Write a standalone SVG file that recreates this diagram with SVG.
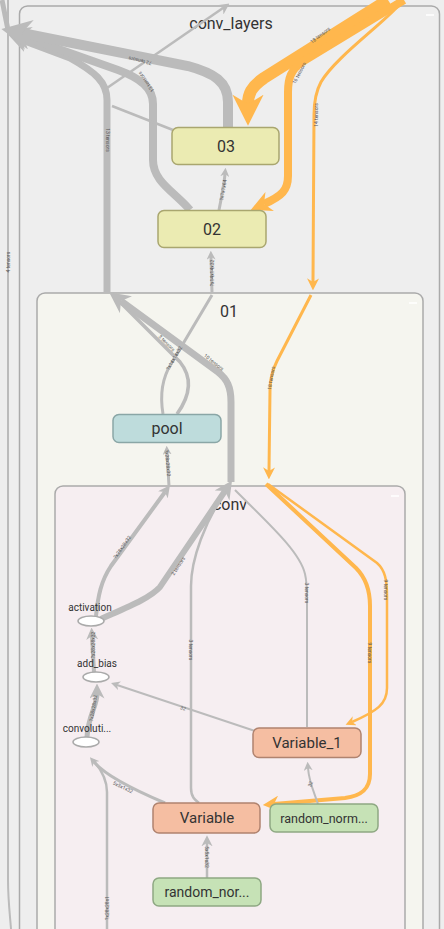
<svg xmlns="http://www.w3.org/2000/svg" width="444" height="929" viewBox="0 0 444 929">
<style>
  .grp { stroke: #aaaaaa; stroke-width: 1.5; }
  .node { stroke-width: 1.5; }
  .yel { fill: #ebebb2; stroke: #a9a66f; }
  .teal { fill: #bedcdc; stroke: #8aa6a6; }
  .sal { fill: #f5bea2; stroke: #b0836f; }
  .grn { fill: #c6e2b6; stroke: #8ea883; }
  .ell { fill: #ffffff; stroke: #aaaaaa; stroke-width: 1.5; }
  .t { font-family: Roboto, "Liberation Sans", sans-serif; fill: #333333; text-anchor: middle; }
  .title { font-size: 16px; }
  .nt { font-size: 15px; dominant-baseline: central; }
  .op { font-size: 10px; }
  .e { fill: none; stroke-linecap: butt; }
  .g { stroke: #bbbbbb; }
  .o { stroke: #ffb74d; }
  .el { font-family: Roboto, "Liberation Sans", sans-serif; font-size: 5px; fill: #555555; text-anchor: middle; dominant-baseline: central; }
  .mn { stroke: #ffffff; stroke-width: 1.5; }
</style>
<defs>
  <marker id="ag" viewBox="0 0 10 10" refX="3" refY="5" markerWidth="3" markerHeight="3" markerUnits="strokeWidth" orient="auto"><path d="M0,0 L10,5 L0,10 L3,5 z" fill="#bbbbbb"/></marker>
  <marker id="agt" viewBox="0 0 10 10" refX="3" refY="5" markerWidth="4.5" markerHeight="4.5" markerUnits="strokeWidth" orient="auto"><path d="M0,0 L10,5 L0,10 L3,5 z" fill="#bbbbbb"/></marker>
  <marker id="ao" viewBox="0 0 10 10" refX="3" refY="5" markerWidth="2.6" markerHeight="2.6" markerUnits="strokeWidth" orient="auto"><path d="M0,0 L10,5 L0,10 L3,5 z" fill="#ffb74d"/></marker>
  <marker id="aot" viewBox="0 0 10 10" refX="3" refY="5" markerWidth="4" markerHeight="4" markerUnits="strokeWidth" orient="auto"><path d="M0,0 L10,5 L0,10 L3,5 z" fill="#ffb74d"/></marker>
</defs>
<rect x="0" y="0" width="444" height="929" fill="#eeeeee"/>

<g id="conv_layers">
  <rect class="grp" x="19.5" y="6" width="420" height="940" rx="8" fill="#eeeeee"/>
  <text class="t title" x="231" y="29">conv_layers</text>
  <line class="mn" x1="426" y1="15" x2="434" y2="15"/>
</g>
<g id="group_01">
  <rect class="grp" x="37" y="293" width="386" height="650" rx="8" fill="#f5f5ef"/>
  <text class="t title" x="229" y="317">01</text>
  <line class="mn" x1="409" y1="303" x2="417" y2="303"/>
</g>
<g id="group_conv">
  <rect class="grp" x="55" y="486" width="350" height="460" rx="8" fill="#f6eef1"/>
  <text class="t title" x="230" y="510">conv</text>
  <line class="mn" x1="391" y1="496" x2="399" y2="496"/>
</g>

<g id="connectors">
  <!-- left outer edge -->
  <path class="e g" stroke-width="2" d="M8,0 L8,880 C8,900 10,915 11,929"/>
  <path class="e g" stroke-width="5" d="M2,0 L8,30"/>
  <!-- big bundle to the upper left -->
  <path class="e g" stroke-width="7" marker-end="url(#ag)" d="M107,292 L107,100 C107,82 95,72 70,58 L22,40"/>
  <path class="e g" stroke-width="8" marker-end="url(#ag)" d="M190,210 C175,192 153,182 153,160 L153,104 C153,88 140,78 118,70 L22,36"/>
  <path class="e g" stroke-width="10" marker-end="url(#ag)" d="M228,128 L228,102 C228,82 214,73 188,66 L22,33"/>
  <path class="e g" stroke-width="2.5" marker-end="url(#agt)" d="M107,88 L223,8"/>
  <path class="e g" stroke-width="2.5" d="M173,130 L112,106"/>
  <!-- 02 -> 03, 01 -> 02 -->
  <path class="e g" stroke-width="3" marker-end="url(#ag)" d="M219,210 C222,195 224,185 225,174"/>
  <path class="e g" stroke-width="3" marker-end="url(#ag)" d="M212,293 L211,257"/>
  <!-- orange edges top -->
  <path class="e o" stroke-width="12" marker-end="url(#ao)" d="M388,0 L264,78 C251,87 248,94 248,104"/>
  <path class="e o" stroke-width="8" marker-end="url(#ao)" d="M404,0 L302,62 C291,70 288,78 288,92 L288,176 C288,190 282,196 264,204"/>
  <path class="e o" stroke-width="3" marker-end="url(#aot)" d="M398,6 C380,26 335,58 321,82 C315,93 314,103 314,115 L313,282"/>
  <!-- inside 01 -->
  <path class="e o" stroke-width="3" marker-end="url(#aot)" d="M311,295 L277,361 C272,371 270,378 270,390 L269,471"/>
  <path class="e g" stroke-width="3" d="M163,414 C160,396 161,380 171,364 L212,295"/>
  <path class="e g" stroke-width="3.5" d="M177,414 C190,396 193,378 180,362 L116,298"/>
  <path class="e g" stroke-width="7" marker-end="url(#ag)" d="M231,482 L231,402 C231,387 227,379 218,372 L121,301"/>
  <path class="e g" stroke-width="3" marker-end="url(#ag)" d="M169,486 L167,452"/>
  <!-- inside conv -->
  <path class="e o" stroke-width="4" marker-end="url(#aot)" d="M266,484 L356,568 C366,578 370,590 370,606 L370,774 C370,790 360,796 345,798 L274,804"/>
  <path class="e o" stroke-width="2.5" marker-end="url(#aot)" d="M268,484 L377,563 C385,570 387,580 387,596 L387,688 C387,704 377,711 352,722"/>
  <path class="e g" stroke-width="2.5" d="M228,488 C205,520 191,560 191,586 L191,788 C191,797 195,800 199,803"/>
  <path class="e g" stroke-width="2" d="M235,490 C270,525 300,552 305,574 C307,582 307,590 307,600 L307,727"/>
  <path class="e g" stroke-width="4" marker-end="url(#ag)" d="M96,616 C98,596 101,581 111,566 L165,492"/>
  <path class="e g" stroke-width="6" marker-end="url(#ag)" d="M101,619 C130,606 150,598 160,587 L225,491"/>
  <path class="e g" stroke-width="4" marker-end="url(#ag)" d="M94,672 L92,636"/>
  <path class="e g" stroke-width="5" marker-end="url(#ag)" d="M87,737 C88,716 97,706 97,694"/>
  <path class="e g" stroke-width="2" marker-end="url(#agt)" d="M255,731 L117,685"/>
  <path class="e g" stroke-width="3" marker-end="url(#ag)" d="M165,803 C132,789 105,775 94,762"/>
  <path class="e g" stroke-width="2.5" d="M107,929 L107,792 C107,778 100,768 93,760"/>
  <path class="e g" stroke-width="2.5" marker-end="url(#agt)" d="M207,878 L207,843"/>
  <path class="e g" stroke-width="2" marker-end="url(#agt)" d="M318,804 C314,792 309,782 308,768"/>

  <!-- edge labels -->
  <text class="el" transform="translate(8,262) rotate(-90)">4 tensors</text>
  <text class="el" transform="translate(140,61) rotate(193)">72 tensors</text>
  <text class="el" transform="translate(146,82) rotate(-125)">13 tensors</text>
  <text class="el" transform="translate(108,140) rotate(90)">13 tensors</text>
  <text class="el" transform="translate(320,35) rotate(-38)">18 tensors</text>
  <text class="el" transform="translate(299,73) rotate(-62)">16 tensors</text>
  <text class="el" transform="translate(316,115) rotate(-90)">14 tensors</text>
  <text class="el" transform="translate(223,190) rotate(-80)">?x7x7x64</text>
  <text class="el" transform="translate(212,273) rotate(-90)">?x14x14x32</text>
  <text class="el" transform="translate(174,358) rotate(-60)">?x14x14x32</text>
  <text class="el" transform="translate(167,343) rotate(45)">3 tensors</text>
  <text class="el" transform="translate(214,362) rotate(38)">10 tensors</text>
  <text class="el" transform="translate(271,378) rotate(-80)">18 tensors</text>
  <text class="el" transform="translate(168,463) rotate(85)">?x28x28x32</text>
  <text class="el" transform="translate(122,547) rotate(-55)">?x28x28x32</text>
  <text class="el" transform="translate(178,566) rotate(-57)">2 tensors</text>
  <text class="el" transform="translate(191,650) rotate(90)">3 tensors</text>
  <text class="el" transform="translate(307,593) rotate(90)">3 tensors</text>
  <text class="el" transform="translate(370,653) rotate(90)">9 tensors</text>
  <text class="el" transform="translate(386,590) rotate(90)">9 tensors</text>
  <text class="el" transform="translate(93,645) rotate(-90)">?x28x28x32</text>
  <text class="el" transform="translate(93,708) rotate(-80)">?x28x28x32</text>
  <text class="el" transform="translate(183,708) rotate(18)">32</text>
  <text class="el" transform="translate(123,787) rotate(25)">5x5x1x32</text>
  <text class="el" transform="translate(310,784) rotate(-70)">32</text>
  <text class="el" transform="translate(207,857) rotate(90)">5x5x1x32</text>
  <text class="el" transform="translate(107,908) rotate(-90)">?x28x28x1</text>
</g>

<g id="node_03">
  <rect class="node yel" x="172" y="127.5" width="107" height="37" rx="6"/>
  <text class="t nt" x="226" y="146" style="font-size:16px">03</text>
</g>
<g id="node_02">
  <rect class="node yel" x="158" y="210.5" width="108" height="37" rx="6"/>
  <text class="t nt" x="212" y="229" style="font-size:16px">02</text>
</g>
<g id="node_pool">
  <rect class="node teal" x="113" y="414.5" width="108" height="28" rx="6"/>
  <text class="t nt" x="167" y="428" style="font-size:16px">pool</text>
</g>
<g id="node_activation">
  <text class="t op" x="90" y="611">activation</text>
  <ellipse class="ell" cx="91" cy="621" rx="13" ry="5"/>
</g>
<g id="node_add_bias">
  <text class="t op" x="97" y="667">add_bias</text>
  <ellipse class="ell" cx="96" cy="677" rx="13" ry="5"/>
</g>
<g id="node_convolution">
  <text class="t op" x="87" y="732">convoluti...</text>
  <ellipse class="ell" cx="86" cy="742" rx="13" ry="5"/>
</g>
<g id="node_Variable_1">
  <rect class="node sal" x="253" y="728" width="108" height="29.5" rx="6"/>
  <text class="t nt" x="307" y="743">Variable_1</text>
</g>
<g id="node_Variable">
  <rect class="node sal" x="153" y="803" width="107" height="30" rx="6"/>
  <text class="t nt" x="207" y="818">Variable</text>
</g>
<g id="node_random_normal_1">
  <rect class="node grn" x="270" y="804" width="108" height="28" rx="6"/>
  <text class="t nt" x="324" y="818" style="font-size:12.5px">random_norm...</text>
</g>
<g id="node_random_normal">
  <rect class="node grn" x="153" y="878" width="108" height="28" rx="6"/>
  <text class="t nt" x="207" y="892" style="font-size:14px">random_nor...</text>
</g>
</svg>
